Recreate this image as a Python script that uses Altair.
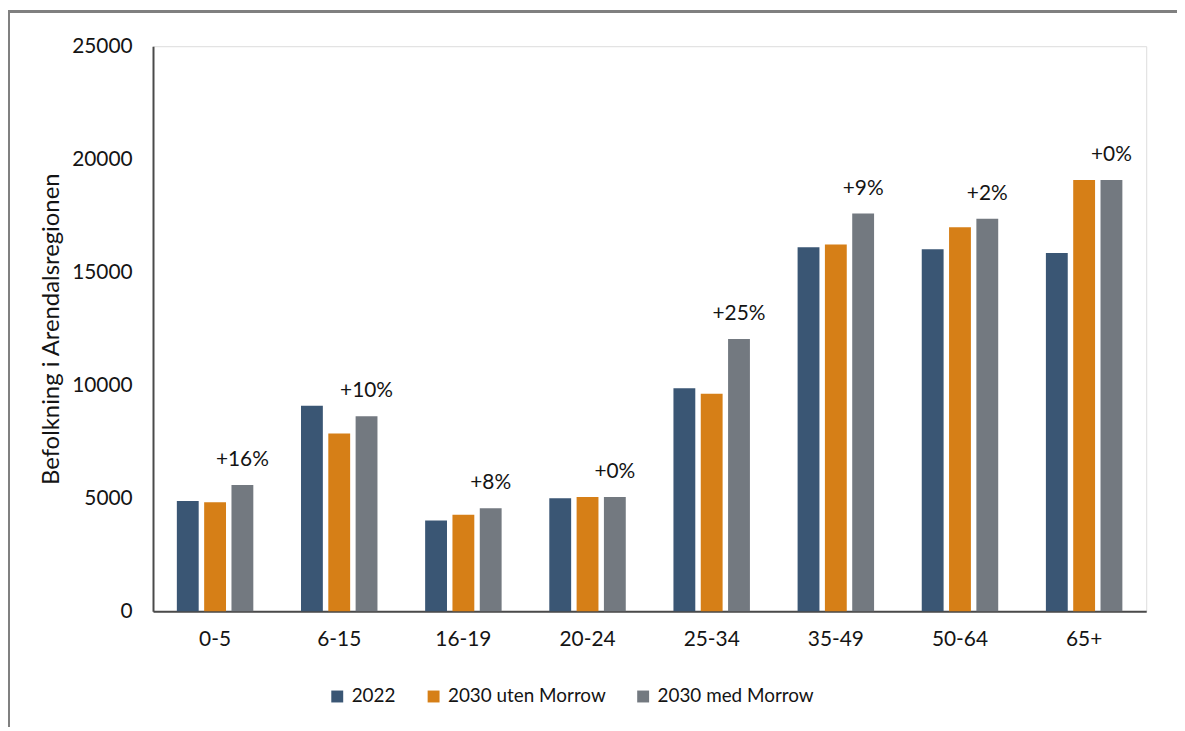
import altair as alt
import pandas as pd

categories = ["0-5", "6-15", "16-19", "20-24", "25-34", "35-49", "50-64", "65+"]
series = ["2022", "2030 uten Morrow", "2030 med Morrow"]
v2022 = [4880, 9090, 4020, 5000, 9870, 16110, 16020, 15850]
v_uten = [4830, 7870, 4270, 5060, 9620, 16230, 16990, 19080]
v_med = [5590, 8630, 4560, 5060, 12050, 17600, 17370, 19080]
pct_labels = ["+16%", "+10%", "+8%", "+0%", "+25%", "+9%", "+2%", "+0%"]
colors = ["#3A5674", "#D67F17", "#737980"]
y_ticks = [0, 5000, 10000, 15000, 20000, 25000]

rows = []
for i, c in enumerate(categories):
    for s, vals in zip(series, [v2022, v_uten, v_med]):
        rows.append({"age": c, "series": s, "value": vals[i]})
df = pd.DataFrame(rows)
lab = pd.DataFrame({"age": categories, "series": [series[2]] * len(categories),
                    "value": v_med, "label": pct_labels})

FONT = "Lato"
TXT = "#141414"

x_enc = alt.X("age:N", sort=categories,
              scale=alt.Scale(paddingInner=0.34, paddingOuter=0.17),
              axis=alt.Axis(title=None, labelAngle=0, ticks=False, domainColor="#4a4a4a",
                            domainWidth=2, labelPadding=17, labelFontSize=21,
                            labelColor=TXT, labelFont=FONT))
xo_enc = alt.XOffset("series:N", sort=series,
                     scale=alt.Scale(paddingInner=0.2, paddingOuter=0.1))
y_enc = alt.Y("value:Q", scale=alt.Scale(domain=[0, 25000], nice=False),
              axis=alt.Axis(title="Befolkning i Arendalsregionen", values=y_ticks, format="d",
                            grid=False, ticks=False, domainColor="#4a4a4a", domainWidth=2,
                            labelPadding=21, labelFontSize=21, labelColor=TXT,
                            labelFont=FONT, titleFont=FONT, titleFontSize=24,
                            titleFontWeight="normal", titleColor=TXT, titlePadding=8))

bars = alt.Chart(df).mark_bar().encode(
    x=x_enc,
    xOffset=xo_enc,
    y=y_enc,
    color=alt.Color("series:N", sort=series,
                    scale=alt.Scale(domain=series, range=colors),
                    legend=alt.Legend(title=None, orient="none", direction="horizontal",
                                      legendX=176, legendY=645, symbolType="square",
                                      symbolSize=144, symbolStrokeWidth=0,
                                      labelFontSize=19, labelFont=FONT, labelColor=TXT,
                                      labelLimit=400, labelOffset=5, columnPadding=28)),
)

texts = alt.Chart(lab).mark_text(fontSize=21, font=FONT, color=TXT, dy=-25,
                                 baseline="middle").encode(
    x=alt.X("age:N", sort=categories),
    xOffset=alt.XOffset("series:N", sort=series),
    y=alt.Y("value:Q"),
    text="label:N",
)

frame_top = alt.Chart(lab).mark_rule(color="#808080", strokeWidth=2).encode(
    x=alt.value(-146), x2=alt.value(1031), y=alt.value(-35))
frame_left = alt.Chart(lab).mark_rule(color="#808080", strokeWidth=2).encode(
    x=alt.value(-145), y=alt.value(-36), y2=alt.value(687))

chart = alt.layer(bars, texts, frame_top, frame_left).properties(
    width=1000, height=569,
    autosize=alt.AutoSizeParams(type="none"),
    padding={"left": 146, "top": 36, "right": 31, "bottom": 114},
).configure_view(stroke=None).configure(font=FONT)

chart.save("out.html", embed_options={"renderer": "svg", "actions": False})
